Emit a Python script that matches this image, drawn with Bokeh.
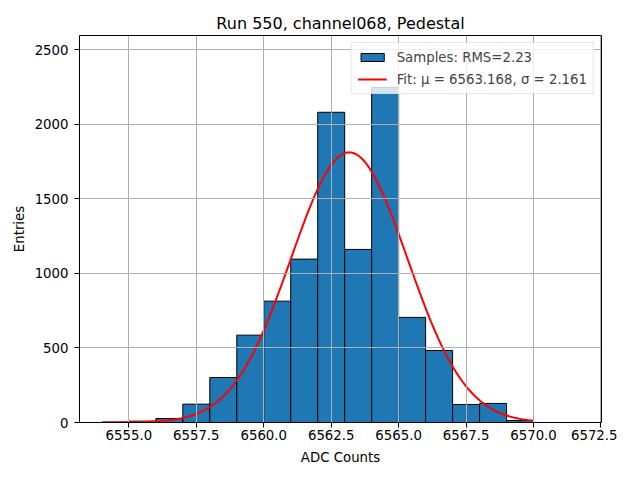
import numpy as np
from bokeh.plotting import figure
from bokeh.models import (ColumnDataSource, FixedTicker, PrintfTickFormatter,
                          Legend, LegendItem, Range1d)
from bokeh.embed import file_html
from bokeh.resources import INLINE

# ---- data ----
bin_left = [6554, 6555, 6556, 6557, 6558, 6559, 6560, 6561, 6562, 6563,
            6564, 6565, 6566, 6567, 6568, 6569]
counts = [3, 9, 27, 123, 302, 586, 814, 1096, 2081, 1161,
          2248, 705, 483, 121, 128, 13]
bin_width = 1.0
fit_mu = 6563.168
fit_sigma = 2.161
fit_amp = 1812.0
fit_xmin, fit_xmax = 6554.0, 6570.0
x_ticks = [6555.0, 6557.5, 6560.0, 6562.5, 6565.0, 6567.5, 6570.0, 6572.5]
y_ticks = [0, 500, 1000, 1500, 2000, 2500]
title = "Run 550, channel068, Pedestal"
rms_label = "Samples: RMS=2.23"
fit_label = "Fit: \u03bc = 6563.168, \u03c3 = 2.161"

FONT = "DejaVu Sans"

src = ColumnDataSource(dict(
    left=bin_left,
    right=[b + bin_width for b in bin_left],
    top=counts,
    bottom=[0] * len(counts),
))

fx = np.linspace(fit_xmin, fit_xmax, 300)
fy = fit_amp * np.exp(-0.5 * ((fx - fit_mu) / fit_sigma) ** 2)
fit_src = ColumnDataSource(dict(x=fx, y=fy))

p = figure(
    frame_width=522, frame_height=387,
    x_range=Range1d(6553.17, 6572.52),
    y_range=Range1d(0, 2596),
    output_backend="svg", toolbar_location=None,
    min_border_left=79, min_border_right=16,
    min_border_top=35, min_border_bottom=42,
)
p.background_fill_color = "white"
p.border_fill_color = "white"
p.outline_line_color = "black"
p.outline_line_width = 1

bars = p.quad(left="left", right="right", top="top", bottom="bottom", source=src,
              fill_color="#1f77b4", line_color="black", line_width=1)
bars.level = "underlay"
fit = p.line("x", "y", source=fit_src, line_color="red", line_width=2)

# grid above bars, below line
for g in (p.xgrid, p.ygrid):
    g.level = "glyph"
    g.grid_line_color = "#b0b0b0"
    g.grid_line_width = 1

p.xaxis.ticker = FixedTicker(ticks=x_ticks)
p.xaxis.formatter = PrintfTickFormatter(format="%.1f")
p.yaxis.ticker = FixedTicker(ticks=y_ticks)
p.xgrid.ticker = FixedTicker(ticks=x_ticks)
p.ygrid.ticker = FixedTicker(ticks=y_ticks)

for ax in (p.xaxis[0], p.yaxis[0]):
    ax.minor_tick_line_color = None
    ax.major_tick_in = 0
    ax.major_tick_out = 5
    ax.major_tick_line_color = "black"
    ax.axis_line_color = "black"
    ax.major_label_text_font = FONT
    ax.major_label_text_font_size = "13.3px"
    ax.major_label_text_color = "black"
    ax.axis_label_text_font = FONT
    ax.axis_label_text_font_size = "13.3px"
    ax.axis_label_text_font_style = "normal"
    ax.axis_label_text_color = "black"

p.xaxis.major_label_standoff = 2
p.yaxis.major_label_standoff = 6
p.xaxis.axis_label = "ADC Counts"
p.yaxis.axis_label = "Entries"
p.xaxis.axis_label_standoff = 7
p.yaxis.axis_label_standoff = 5

p.title.text = title
p.title.text_font = FONT
p.title.text_font_size = "16px"
p.title.text_font_style = "normal"
p.title.align = "center"
p.title.text_color = "black"
p.title.standoff = 6

legend = Legend(items=[LegendItem(label=rms_label, renderers=[bars]),
                       LegendItem(label=fit_label, renderers=[fit])],
                location="top_right")
legend.margin = 7
legend.padding = 6
legend.spacing = 6
legend.label_standoff = 10
legend.glyph_width = 29
legend.glyph_height = 10
legend.label_height = 16
legend.label_text_font = FONT
legend.label_text_font_size = "13.3px"
legend.border_line_color = "#cccccc"
legend.border_line_width = 1
legend.background_fill_alpha = 0.8
p.add_layout(legend)

open("out.html", "w").write(file_html(p, INLINE))
